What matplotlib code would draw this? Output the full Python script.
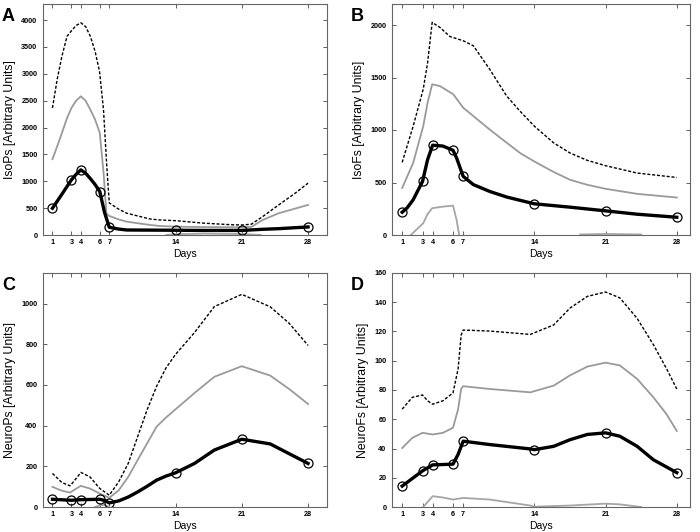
import numpy as np
import matplotlib.pyplot as plt

plt.rcParams["font.family"] = ["Liberation Sans", "DejaVu Sans"]

nan = np.nan

# ── marker days (measured time points) ────────────────────────────────────
days = [1, 3, 4, 6, 7, 14, 21, 28]

# ── Panel A : IsoPs ───────────────────────────────────────────────────────
a_mean = [498, 1026, 1213, 808, 144, 88, 85, 150]
a_mean_x = [1, 2, 3, 3.5, 4, 4.5, 5, 5.5, 6, 6.5, 7, 8, 8.85, 12.35, 14, 17, 21, 23.2, 24.9, 28]
a_mean_y = [498, 760, 1026, 1130, 1213, 1150, 1050, 940, 808, 420, 144, 110, 93, 90, 88, 85, 85, 106, 118, 150]
a_sd_x = [1, 1.5, 2, 2.54, 3, 3.5, 4, 4.5, 5, 5.5, 6, 6.4, 6.7, 7, 8, 8.85, 11.3, 12.35, 14, 17, 21, 22, 23.2, 24.9, 26.5, 28]
a_sd_y = [1412, 1650, 1900, 2178, 2364, 2500, 2582, 2500, 2333, 2150, 1900, 1150, 400, 355, 290, 248, 187, 168, 155, 148, 143, 150, 280, 405, 485, 560]
a_max_x = [1, 1.5, 2, 2.54, 3, 3.5, 4, 4.5, 5, 5.5, 5.97, 6.39, 6.74, 7, 8, 8.85, 11.3, 12.35, 14, 17, 20, 21, 22, 23.2, 24.9, 26.5, 28]
a_max_y = [2365, 2900, 3328, 3700, 3800, 3900, 3950, 3880, 3700, 3420, 3048, 2333, 1275, 597, 480, 405, 298, 280, 267, 220, 190, 187, 200, 342, 560, 760, 965]
a_low_x = [13, 14, 17, 21, 23]
a_low_y = [0, 15, 25, 18, 0]

# ── Panel B : IsoFs ───────────────────────────────────────────────────────
b_mean = [217, 510, 855, 807, 558, 297, 230, 169]
b_mean_x = [1, 1.5, 2.08, 3, 3.5, 4, 5, 6, 6.35, 7, 8, 9.6, 11.3, 14, 17.5, 21, 24.1, 28]
b_mean_y = [217, 260, 335, 510, 718, 855, 847, 807, 734, 558, 480, 415, 361, 297, 265, 230, 198, 169]
b_sd_x = [1, 2.08, 3.07, 3.5, 3.95, 4.7, 6.03, 7, 9.6, 11.3, 12.6, 14, 15.9, 17.5, 19.2, 21, 24.1, 28]
b_sd_y = [447, 686, 1036, 1260, 1435, 1419, 1340, 1212, 1005, 877, 780, 700, 600, 526, 478, 440, 392, 357]
b_max_x = [1, 2.08, 3.07, 3.5, 3.95, 4.7, 5.7, 7, 8, 9.6, 11.27, 12.58, 14, 15.9, 17.5, 19.2, 21, 24.1, 28]
b_max_y = [692, 1036, 1388, 1640, 2025, 1978, 1890, 1850, 1802, 1579, 1324, 1180, 1036, 877, 781, 711, 660, 590, 548]
b_low_x = [1.85, 3.07, 3.5, 3.95, 5, 6, 6.35, 6.6, nan, 18.5, 21, 24.5]
b_low_y = [0, 112, 200, 255, 270, 280, 144, 0, nan, 5, 10, 5]

# ── Panel C : NeuroPs ─────────────────────────────────────────────────────
c_mean = [38, 33, 36, 38, 20, 168, 333, 214]
c_mean_x = [1, 3, 4, 6, 6.5, 7, 8, 9, 10, 11, 12, 13, 14, 16, 18.1, 21, 24, 26, 28]
c_mean_y = [38, 33, 36, 38, 32, 20, 30, 49, 74, 102, 132, 152, 168, 214, 280, 333, 310, 262, 214]
c_sd_x = [1, 2, 2.86, 3.5, 4, 5, 6, 7, 8, 9, 10, 11, 12, 13, 14, 16, 18.1, 21, 24, 26, 28]
c_sd_y = [99, 80, 71, 90, 104, 90, 66, 45, 82, 148, 231, 313, 395, 440, 480, 560, 640, 692, 646, 580, 506]
c_max_x = [1, 2, 2.86, 3.5, 4, 4.96, 6, 7, 8, 9, 10, 11, 12, 13, 14, 16, 18.1, 21, 24, 26, 28]
c_max_y = [165, 120, 104, 140, 170, 148, 91, 58, 124, 214, 346, 478, 593, 684, 750, 857, 985, 1045, 984, 903, 794]
c_low_x = [5.5, 6, 6.5, 7]
c_low_y = [0, 8, 10, 0]

# ── Panel D : NeuroFs ─────────────────────────────────────────────────────
d_mean = [14.3, 24.7, 28.8, 29.3, 45, 39.2, 50.7, 23.5]
d_mean_x = [1, 3, 4, 6, 6.5, 7, 9.6, 13.6, 14, 15.9, 17.5, 19.2, 21, 22.4, 24.1, 25.7, 28]
d_mean_y = [14.3, 24.7, 28.8, 29.3, 36, 45, 42.7, 39.7, 39.2, 41.5, 46, 49.6, 50.7, 48.4, 41.5, 32.3, 23.5]
d_sd_x = [1, 2, 3, 4, 5, 6, 6.5, 6.8, 7, 9.6, 13.6, 15.9, 17.5, 19.2, 21, 22.4, 24.1, 25.7, 27, 28]
d_sd_y = [40.3, 47.3, 50.7, 49.6, 50.7, 54.2, 66.9, 80.7, 82.6, 80.7, 78.4, 83, 90, 96, 98.7, 96.8, 87.6, 75, 63.4, 52]
d_max_x = [1, 2, 3, 3.5, 4, 5, 6, 6.5, 6.8, 7, 9.6, 13.6, 15.9, 17.5, 19.2, 21, 22.4, 24.1, 25.7, 27, 28]
d_max_y = [66.9, 75, 76.6, 72.6, 70.3, 72.6, 78, 94.5, 117.6, 121, 120.3, 118, 124.5, 136, 144, 147, 143, 129, 111, 94.5, 80.7]
d_low_x = [3.07, 4, 5, 6, 7, 9.6, 13.6, 14, 17.5, 21, 22.4, 24.5]
d_low_y = [0, 7.4, 6.5, 5.1, 6.2, 5.1, 1, 0.2, 1, 2.3, 1.8, 0]

panels = [
    ("A", "IsoPs [Arbitrary Units]", (a_mean_x, a_mean_y), (a_sd_x, a_sd_y), (a_max_x, a_max_y),
     (a_low_x, a_low_y), a_mean, (0, 30), (0, 4300), range(0, 4001, 500)),
    ("B", "IsoFs [Arbitrary Units]", (b_mean_x, b_mean_y), (b_sd_x, b_sd_y), (b_max_x, b_max_y),
     (b_low_x, b_low_y), b_mean, (0, 29.3), (0, 2200), range(0, 2001, 500)),
    ("C", "NeuroPs [Arbitrary Units]", (c_mean_x, c_mean_y), (c_sd_x, c_sd_y), (c_max_x, c_max_y),
     (c_low_x, c_low_y), c_mean, (0, 30), (0, 1150), range(0, 1001, 200)),
    ("D", "NeuroFs [Arbitrary Units]", (d_mean_x, d_mean_y), (d_sd_x, d_sd_y), (d_max_x, d_max_y),
     (d_low_x, d_low_y), d_mean, (0, 29.3), (0, 160), range(0, 161, 20)),
]

# axes rectangles in figure pixels: left, top, right, bottom
rects = [(43, 4, 327, 235), (392, 4, 690, 235), (43, 273, 327, 507), (392, 273, 690, 507)]
W, H = 700, 532

fig = plt.figure(figsize=(7, 5.32), dpi=100)

for (letter, ylab, mean_c, sd_c, max_c, low_c, mk, xl, yl, yt), (l, t, r, b) in zip(panels, rects):
    ax = fig.add_axes([l / W, 1 - b / H, (r - l) / W, (b - t) / H])
    ax.plot(*max_c, color="black", lw=1.0, ls=(0, (2.2, 1.3)))
    ax.plot(*sd_c, color="#9a9a9a", lw=1.3)
    ax.plot(*low_c, color="#a5a5a5", lw=1.3)
    ax.plot(*mean_c, color="black", lw=2.4, solid_joinstyle="round")
    ax.plot(days, mk, ls="none", marker="o", ms=6.5, mfc="none", mec="black", mew=0.9)
    ax.set_xlim(*xl)
    ax.set_ylim(*yl)
    ax.set_xticks(days)
    ax.set_yticks(list(yt))
    ax.tick_params(direction="in", length=3, width=0.6, labelsize=5.2, top=True, right=True,
                   color="#444444")
    ax.tick_params(axis="x", pad=3)
    ax.tick_params(axis="y", pad=4)
    for lab in ax.get_xticklabels() + ax.get_yticklabels():
        lab.set_fontweight("bold")
    for s in ax.spines.values():
        s.set_color("#666666")
        s.set_linewidth(0.8)
    ax.set_xlabel("Days", fontsize=7.5, labelpad=2)
    ax.set_ylabel(ylab, fontsize=8.8, labelpad=4)
    fig.text((l - 41) / W, 1 - (t + 4) / H, letter, fontsize=13, fontweight="bold", va="top", ha="left")

plt.savefig("out.png", dpi=100)
